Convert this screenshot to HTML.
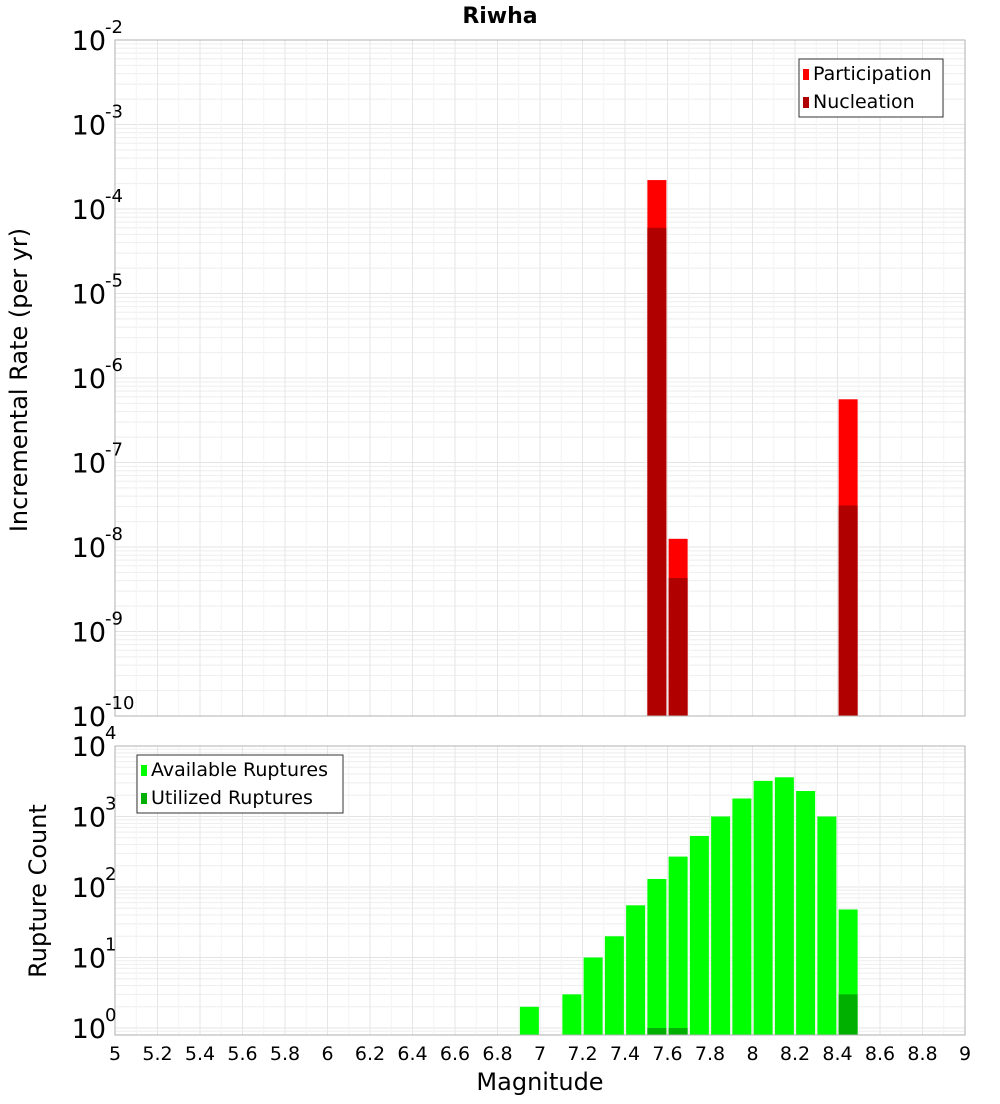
<!DOCTYPE html>
<html><head><meta charset="utf-8"><style>
body{margin:0;background:#fff;font-family:"DejaVu Sans","Liberation Sans",sans-serif}
svg text{font-family:"DejaVu Sans","Liberation Sans",sans-serif}
</style></head><body>
<svg id="c" width="1000" height="1100" xmlns="http://www.w3.org/2000/svg">
<text x="500" y="23" text-anchor="middle" font-size="22" font-weight="bold">Riwha</text>
<text transform="translate(27,380) rotate(-90)" text-anchor="middle" font-size="24">Incremental Rate (per yr)</text>
<text transform="translate(46,891) rotate(-90)" text-anchor="middle" font-size="24">Rupture Count</text>
<text x="540" y="1090" text-anchor="middle" font-size="24">Magnitude</text>
<g id="g"></g>
</svg>
<script>
const mags=[6.95,7.15,7.25,7.35,7.45,7.55,7.65,7.75,7.85,7.95,8.05,8.15,8.25,8.35,8.45];
const available=[2,3,10,20,55,130,270,530,1000,1800,3200,3600,2300,1000,48];
const utilMags=[7.55,7.65,8.45];
const utilized=[1,1,3];
const rateMags=[7.55,7.65,8.45];
const participation=[2.2e-4,1.25e-8,5.6e-7];
const nucleation=[6e-5,4.3e-9,3.1e-8];
const xTicks=[5,5.2,5.4,5.6,5.8,6,6.2,6.4,6.6,6.8,7,7.2,7.4,7.6,7.8,8,8.2,8.4,8.6,8.8,9];
const topExps=[-2,-3,-4,-5,-6,-7,-8,-9,-10];
const botExps=[4,3,2,1,0];

const NS="http://www.w3.org/2000/svg",G=document.getElementById('g');
function el(t,a,p){const e=document.createElementNS(NS,t);for(const k in a)e.setAttribute(k,a[k]);(p||G).appendChild(e);return e;}
const L=115,R=965;
const x=m=>L+(m-5)*(R-L)/4;
const T0=40,T1=716;
const yT=v=>T0+(-2-Math.log10(v))*(T1-T0)/8;
const B0=746,B1=1035,BZ=1028;
const yB=v=>BZ-Math.log10(v)*(BZ-B0)/4;
function grid(y0,y1,yf,lo,hi){
 for(let e=lo;e<hi;e++)for(let k=1;k<10;k++){const yy=yf(k*Math.pow(10,e));if(yy<y0||yy>y1)continue;
  const l=el('line',{x1:L,x2:R,y1:yy,y2:yy,stroke:k==1?'#e4e4e4':'#eeeeee','stroke-width':1});
  }
 for(let i=0;i<=40;i++){const xx=x(5+i*0.1);const l=el('line',{x1:xx,x2:xx,y1:y0,y2:y1,stroke:i%2?'#f3f3f3':'#e6e6e6'});
  }
}
grid(T0,T1,yT,-10,-1);
grid(B0,B1,yB,-1,4);
const bw=19;
rateMags.forEach((m,i)=>{
 const r1=el('rect',{x:x(m)-bw/2,y:yT(participation[i]),width:bw,height:T1-yT(participation[i]),fill:'#ff0000'});
 
 const r2=el('rect',{x:x(m)-bw/2,y:yT(nucleation[i]),width:bw,height:T1-yT(nucleation[i]),fill:'#b10000'});
 
});
mags.forEach((m,i)=>{
 const r=el('rect',{x:x(m)-bw/2,y:yB(available[i]),width:bw,height:B1-yB(available[i]),fill:'#00ff00'});
 
});
utilMags.forEach((m,i)=>{
 const r=el('rect',{x:x(m)-bw/2,y:yB(utilized[i]),width:bw,height:B1-yB(utilized[i]),fill:'#00b000'});
 
});
const f1=el('rect',{x:L,y:T0,width:R-L,height:T1-T0,fill:'none',stroke:'#b0b0b0'});

const f2=el('rect',{x:L,y:B0,width:R-L,height:B1-B0,fill:'none',stroke:'#b0b0b0'});

function pow(yy,e,nm){
 const t=el('text',{x:106,y:yy+10,'font-size':27,'text-anchor':'end'});
 t.textContent='10';
 const s=el('text',{x:105,y:yy-7,'font-size':18});
 s.textContent=String(e);}
topExps.forEach(e=>pow(yT(Math.pow(10,e)),e,'top-y-tick-label'));
botExps.forEach(e=>pow(yB(Math.pow(10,e)),e,'bottom-y-tick-label'));
xTicks.forEach(v=>{const t=el('text',{x:x(v),y:1060,'font-size':19,'text-anchor':'middle'});
 t.textContent=String(v);});
function legend(x0,y0,w,items,nm){const g=el('g',{});
 el('rect',{x:x0,y:y0,width:w,height:58,fill:'#fff',stroke:'#333'},g);
 items.forEach((it,i)=>{el('rect',{x:x0+4,y:y0+10+i*28,width:6,height:11,fill:it[1]},g);
  const t=el('text',{x:x0+14,y:y0+21+i*28,'font-size':19},g);t.textContent=it[0];});}
legend(799,59,144,[['Participation','#ff0000'],['Nucleation','#b10000']],'rate-legend');
legend(137,755,206,[['Available Ruptures','#00ff00'],['Utilized Ruptures','#00b000']],'count-legend');
</script>
</body></html>
